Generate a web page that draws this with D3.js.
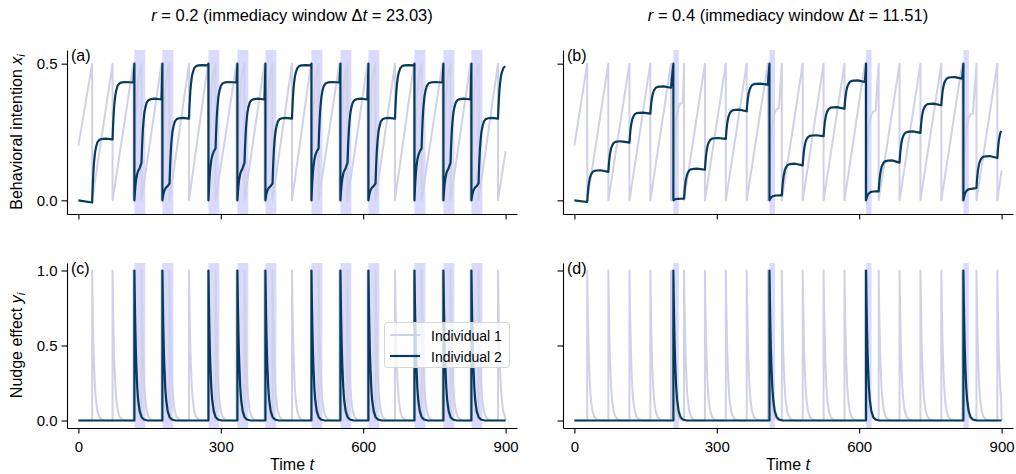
<!DOCTYPE html>
<html><head><meta charset="utf-8">
<script src="https://cdn.jsdelivr.net/npm/d3@7"></script>
<style>
body{margin:0;background:#fff}
svg{display:block}
text{font-family:"Liberation Sans",Arial,Helvetica,sans-serif;fill:#000}
</style>
</head><body>
<svg id="chart" width="1016" height="474"></svg>
<script>
// ---------------- data ----------------
const tEnd = 900;
const xTicks = [0, 300, 600, 900];
const xTickLabels = ["0", "300", "600", "900"];
const yTicksTop = [0, 0.5];
const yTicksBottom = [0, 0.5, 1];
const seriesNames = ["Individual 1", "Individual 2"];
const windowR02 = 23.03;
const windowR04 = 11.51;

// shape of one nudge: time after the nudge, nudge effect, share of the jump in x completed
const pulseDt   = [0, 1, 2, 3, 4, 6, 8, 11, 15, 20, 28];
const pulseY    = [1, 0.78, 0.61, 0.47, 0.37, 0.22, 0.135, 0.064, 0.024, 0.007, 0];
const jumpShare = [0, 0.22, 0.39, 0.53, 0.63, 0.78, 0.86, 0.94, 0.98, 0.993, 1];

// r = 0.2 : action times
const act1R02 = [29, 72, 116, 133, 175, 192, 233, 273, 289, 333, 350, 392, 409, 450, 490, 506,
                 550, 567, 609, 626, 667, 707, 723, 767, 784, 826, 843, 884];
const act2R02 = [118, 177, 274, 335, 394, 491, 552, 611, 708, 769, 828];
// r = 0.4 : action times
const act1R04 = [27, 71.5, 116, 160, 203.5, 231, 275, 319, 363, 407.5, 437, 481, 525, 569, 612,
                 641, 685, 729, 773, 817, 847, 891];
const act2R04 = [208.5, 411, 614.5, 819.5];

// behavioral intention keypoints: [t, x] or jump [t, from, to]
const x1R02 = [[0,0.2],[29,0.5],[29,0],[72,0.5],[72,0],[116,0.5],[116,0],[118,0.023,0.5],[133,0.5],[133,0],
  [175,0.5],[175,0],[177,0.023,0.5],[192,0.5],[192,0],[233,0.5],[233,0],[273,0.5],[273,0],[274,0.011,0.5],[289,0.5],[289,0],
  [333,0.5],[333,0],[335,0.023,0.5],[350,0.5],[350,0],[392,0.5],[392,0],[394,0.023,0.5],[409,0.5],[409,0],
  [450,0.5],[450,0],[490,0.5],[490,0],[491,0.011,0.5],[506,0.5],[506,0],[550,0.5],[550,0],[552,0.023,0.5],[567,0.5],[567,0],
  [609,0.5],[609,0],[611,0.023,0.5],[626,0.5],[626,0],[667,0.5],[667,0],[707,0.5],[707,0],[708,0.011,0.5],[723,0.5],[723,0],
  [767,0.5],[767,0],[769,0.023,0.5],[784,0.5],[784,0],[826,0.5],[826,0],[828,0.023,0.5],[843,0.5],[843,0],
  [884,0.5],[884,0],[900,0.18]];
const x2R02 = [[0,0],[29,-0.008,0.226],[72,0.223,0.433],[116,0.431],[118,0.5],[118,0,0.125],
  [133,0.138,0.372],[175,0.369],[177,0.5],[177,0,0.055],[192,0.062,0.302],[233,0.299,0.495],
  [273,0.494],[274,0.5],[274,0,0.19],[289,0.19,0.433],[333,0.431],[335,0.5],[335,0,0.125],
  [350,0.138,0.372],[392,0.369],[394,0.5],[394,0,0.055],[409,0.062,0.302],[450,0.299,0.495],
  [490,0.494],[491,0.5],[491,0,0.19],[506,0.19,0.433],[550,0.431],[552,0.5],[552,0,0.125],
  [567,0.138,0.372],[609,0.369],[611,0.5],[611,0,0.055],[626,0.062,0.302],[667,0.299,0.495],
  [707,0.494],[708,0.5],[708,0,0.19],[723,0.19,0.433],[767,0.431],[769,0.5],[769,0,0.125],
  [784,0.138,0.372],[826,0.369],[828,0.5],[828,0,0.055],[843,0.062,0.302],[884,0.299,0.495]];
const x1R04 = [[0,0.2],[27,0.5],[27,0],[71.5,0.5],[71.5,0],[116,0.5],[116,0],[160,0.5],[160,0],
  [203.5,0.5],[203.5,0],[208.5,0.055,0.36],[231,0.5],[231,0],[275,0.5],[275,0],[319,0.5],[319,0],
  [363,0.5],[363,0],[407.5,0.5],[407.5,0],[411,0.04,0.34],[437,0.5],[437,0],[481,0.5],[481,0],
  [525,0.5],[525,0],[569,0.5],[569,0],[612,0.5],[612,0],[614.5,0.03,0.33],[641,0.5],[641,0],
  [685,0.5],[685,0],[729,0.5],[729,0],[773,0.5],[773,0],[817,0.5],[817,0],[819.5,0.03,0.32],
  [847,0.5],[847,0],[891,0.5],[891,0],[900,0.11]];
const x2R04 = [[0,0],[27,-0.006,0.11],[71.5,0.104,0.216],[116,0.211,0.321],[160,0.317,0.417],
  [203.5,0.412],[208.5,0.5],[208.5,0,0.006],
  [231,0.006,0.116],[275,0.112,0.228],[319,0.225,0.332],[363,0.326,0.427],[407.5,0.423],[411,0.5],[411,0,0.018],
  [437,0.018,0.134],[481,0.128,0.238],[525,0.235,0.341],[569,0.335,0.439],[612,0.433],[614.5,0.5],[614.5,0,0.033],
  [641,0.033,0.146],[685,0.138,0.252],[729,0.247,0.354],[773,0.348,0.451],[817,0.445],[819.5,0.5],[819.5,0,0.043],
  [847,0.045,0.162],[891,0.155,0.27]];

// ---------------- helpers ----------------
function buildX(entries){
  const pts = [];
  entries.forEach((e,i)=>{
    const next = i+1<entries.length ? entries[i+1][0] : tEnd;
    if(e.length===2){ pts.push([e[0],e[1]]); return; }
    const [t0,a,b] = e;
    for(let k=0;k<pulseDt.length;k++){
      const t = t0+pulseDt[k];
      if(k>0 && (t>=next || t>tEnd)) break;
      pts.push([t, a+(b-a)*jumpShare[k]]);
    }
  });
  return pts;
}
function buildY(times){
  const pts = [[0,0]];
  times.forEach((t0,i)=>{
    const next = i+1<times.length ? times[i+1] : tEnd;
    pts.push([t0,0]);
    for(let k=0;k<pulseDt.length;k++){
      const t = t0+pulseDt[k];
      if(k>0 && (t>=next || t>tEnd)) break;
      pts.push([t,pulseY[k]]);
    }
  });
  if(pts[pts.length-1][0]<tEnd) pts.push([tEnd,0]);
  return pts;
}

// ---------------- layout ----------------
const svg = d3.select("#chart");
const colLeft = [67, 563], colW = 450;
const rowTop = [50, 263], rowBot = [214, 428];
const cLight = "#d0d1e6", cDark = "#073b5c", cBand = "#dadaff";
const fs = 15;

const panels = [
  {c:0,r:0,light:buildX(x1R02),dark:buildX(x2R02),acts:act2R02,win:windowR02,lab:"(a)",yd:[-0.05,0.55],yt:yTicksTop},
  {c:1,r:0,light:buildX(x1R04),dark:buildX(x2R04),acts:act2R04,win:windowR04,lab:"(b)",yd:[-0.05,0.55],yt:yTicksTop},
  {c:0,r:1,light:buildY(act1R02),dark:buildY(act2R02),acts:act2R02,win:windowR02,lab:"(c)",yd:[-0.05,1.05],yt:yTicksBottom},
  {c:1,r:1,light:buildY(act1R04),dark:buildY(act2R04),acts:act2R04,win:windowR04,lab:"(d)",yd:[-0.05,1.05],yt:yTicksBottom}
];

panels.forEach(p=>{
  const x = d3.scaleLinear().domain([-24,924]).range([colLeft[p.c], colLeft[p.c]+colW]);
  const y = d3.scaleLinear().domain(p.yd).range([rowBot[p.r], rowTop[p.r]]);
  const g = svg.append("g");
  // immediacy windows
  g.selectAll("rect.band").data(p.acts).enter().append("rect")
    .attr("x",d=>x(d)).attr("width",d=>x(d+p.win)-x(d))
    .attr("y",rowTop[p.r]).attr("height",rowBot[p.r]-rowTop[p.r])
    .attr("fill",cBand);
  const line = d3.line().x(d=>x(d[0])).y(d=>y(d[1]));
  g.append("path").attr("d",line(p.light)).attr("fill","none").attr("stroke",cLight)
    .attr("stroke-width",2).attr("stroke-linejoin","round");
  g.append("path").attr("d",line(p.dark)).attr("fill","none").attr("stroke",cDark)
    .attr("stroke-width",2.2).attr("stroke-linejoin","round");
  // axes
  const ax = g.append("g").attr("transform",`translate(0,${rowBot[p.r]})`)
    .call(d3.axisBottom(x).tickValues(xTicks).tickSize(5.5).tickSizeOuter(0).tickPadding(7.5)
      .tickFormat((d,i)=> p.r===1 ? xTickLabels[i] : ""));
  const ay = g.append("g").attr("transform",`translate(${colLeft[p.c]},0)`)
    .call(d3.axisLeft(y).tickValues(p.yt).tickSize(5.5).tickSizeOuter(0).tickPadding(4)
      .tickFormat(d=> p.c===0 ? d3.format(".1f")(d) : ""));
  [ax,ay].forEach(a=>{
    a.attr("font-family",null).attr("font-size",null);
    a.selectAll("path,line").attr("stroke","#000").attr("stroke-width",1.1);
    a.selectAll("text").attr("font-size",fs).attr("fill","#000");
  });
  g.append("text").attr("x",colLeft[p.c]+4).attr("y",rowTop[p.r]+11)
    .attr("font-size",16).text(p.lab);
});

// titles
function title(cx, rText, dtText){
  const t = svg.append("text").attr("x",cx).attr("y",20.5).attr("text-anchor","middle").attr("font-size",16.5);
  t.append("tspan").attr("font-style","italic").text("r");
  t.append("tspan").text(" = "+rText+" (immediacy window Δ");
  t.append("tspan").attr("font-style","italic").text("t");
  t.append("tspan").text(" = "+dtText+")");
}
title(292, "0.2", "23.03");
title(788, "0.4", "11.51");

// axis labels
function xlabel(cx){
  const t = svg.append("text").attr("x",cx).attr("y",469.5).attr("text-anchor","middle").attr("font-size",16);
  t.append("tspan").text("Time ");
  t.append("tspan").attr("font-style","italic").text("t");
}
xlabel(292); xlabel(788);
function ylabel(cy, txt, sym){
  const t = svg.append("text").attr("transform",`translate(21.5,${cy}) rotate(-90)`)
    .attr("text-anchor","middle").attr("font-size",16);
  t.append("tspan").text(txt);
  t.append("tspan").attr("font-style","italic").text(sym);
  t.append("tspan").attr("font-style","italic").attr("font-size",11).attr("dy",3).text("i");
}
ylabel(132, "Behavioral intention ", "x");
ylabel(345.5, "Nudge effect ", "y");

// legend
const lg = svg.append("g");
lg.append("rect").attr("x",384.5).attr("y",322.5).attr("width",125).attr("height",45).attr("rx",3)
  .attr("fill","#fff").attr("fill-opacity",0.8).attr("stroke","#d6d6d6").attr("stroke-width",1);
[cLight,cDark].forEach((c,i)=>{
  lg.append("line").attr("x1",390).attr("x2",420).attr("y1",335+i*21).attr("y2",335+i*21)
    .attr("stroke",c).attr("stroke-width",i?2.2:2);
  lg.append("text").attr("x",431).attr("y",340.5+i*21).attr("font-size",14).text(seriesNames[i]);
});
</script>
</body></html>
